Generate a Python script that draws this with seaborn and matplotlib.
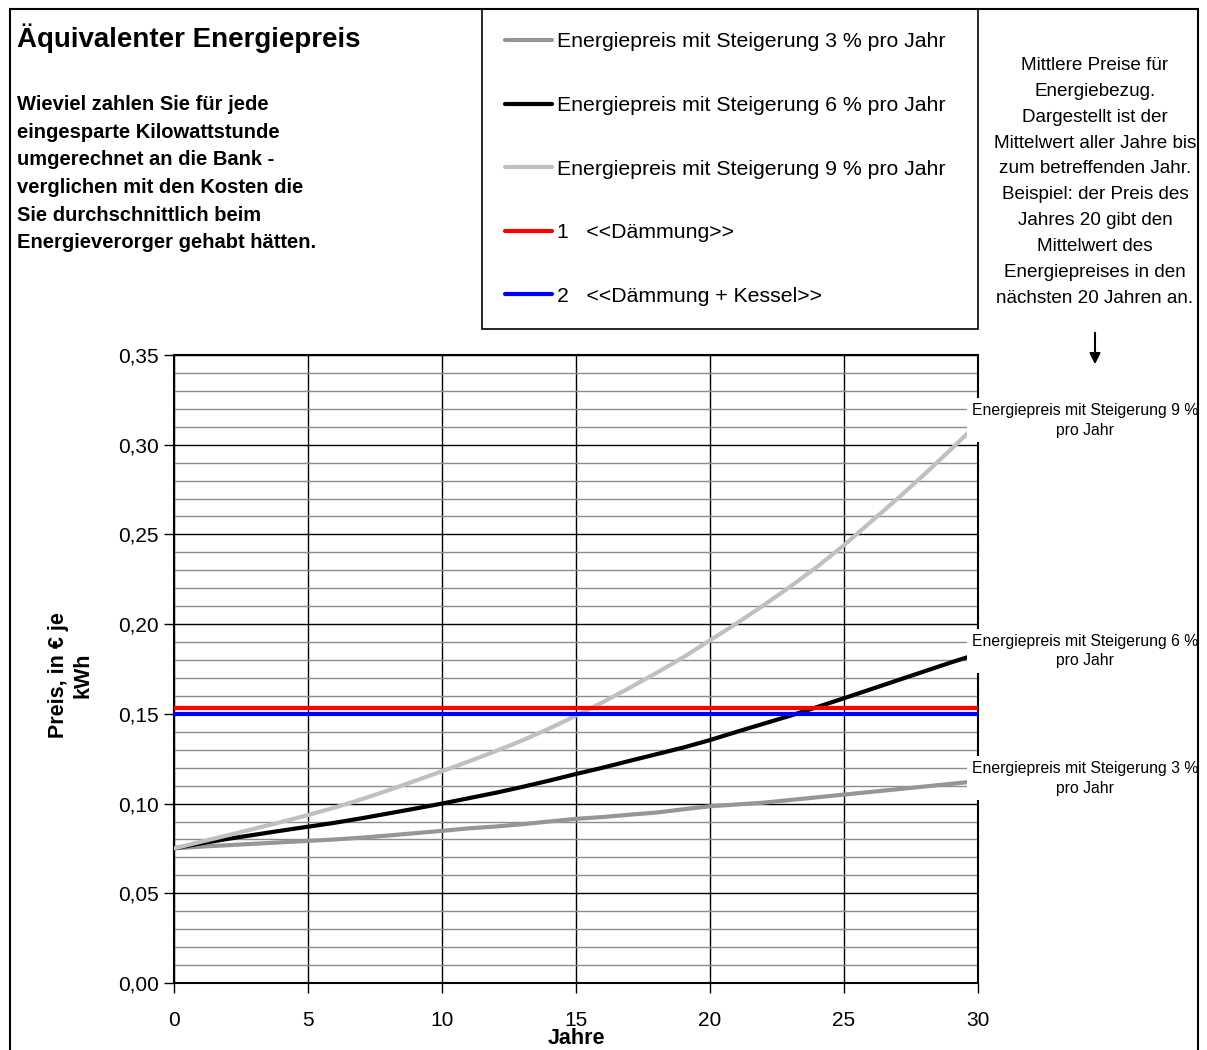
import pandas as pd
import seaborn as sns
import matplotlib.pyplot as plt
from matplotlib.patches import Rectangle
from matplotlib.ticker import MultipleLocator, FuncFormatter

# Jahre und mittlere Energiepreise (in EUR je kWh)
jahre = list(range(31))
preis_3 = [0.0750, 0.0760, 0.0768, 0.0776, 0.0784, 0.0792, 0.0800, 0.0810, 0.0822, 0.0835,
           0.0848, 0.0862, 0.0872, 0.0885, 0.0900, 0.0915, 0.0925, 0.0938, 0.0950, 0.0968,
           0.0985, 0.0995, 0.1005, 0.1020, 0.1035, 0.1050, 0.1065, 0.1080, 0.1095, 0.1110,
           0.1125]
preis_6 = [0.0750, 0.0778, 0.0803, 0.0826, 0.0849, 0.0871, 0.0893, 0.0918, 0.0945, 0.0972,
           0.1000, 0.1030, 0.1060, 0.1093, 0.1128, 0.1165, 0.1200, 0.1238, 0.1275, 0.1312,
           0.1354, 0.1400, 0.1445, 0.1490, 0.1538, 0.1587, 0.1637, 0.1687, 0.1737, 0.1787,
           0.1834]
preis_9 = [0.0750, 0.0787, 0.0823, 0.0860, 0.0897, 0.0936, 0.0978, 0.1024, 0.1074, 0.1127,
           0.1180, 0.1235, 0.1292, 0.1352, 0.1418, 0.1490, 0.1565, 0.1645, 0.1728, 0.1815,
           0.1910, 0.2005, 0.2105, 0.2210, 0.2320, 0.2440, 0.2570, 0.2700, 0.2835, 0.2975,
           0.3120]
preis_daemmung = 0.153
preis_kessel = 0.150

reihen = ["Energiepreis mit Steigerung 3 % pro Jahr",
          "Energiepreis mit Steigerung 6 % pro Jahr",
          "Energiepreis mit Steigerung 9 % pro Jahr"]
farben = ["#969696", "#000000", "#C0C0C0"]
varianten = ["1   <<Dämmung>>", "2   <<Dämmung + Kessel>>"]
y_ticks = [0.00, 0.05, 0.10, 0.15, 0.20, 0.25, 0.30, 0.35]
x_ticks = [0, 5, 10, 15, 20, 25, 30]

titel = "Äquivalenter Energiepreis"
beschreibung = ("Wieviel zahlen Sie für jede\neingesparte Kilowattstunde\n"
                "umgerechnet an die Bank -\nverglichen mit den Kosten die\n"
                "Sie durchschnittlich beim\nEnergieverorger gehabt hätten.")
hinweis = ("Mittlere Preise für\nEnergiebezug.\nDargestellt ist der\n"
           "Mittelwert aller Jahre bis\nzum betreffenden Jahr.\nBeispiel: der Preis des\n"
           "Jahres 20 gibt den\nMittelwert des\nEnergiepreises in den\nnächsten 20 Jahren an.")

sns.set_style("white")
plt.rcParams['font.family'] = ['Liberation Sans', 'DejaVu Sans']
plt.rcParams['text.color'] = 'black'
plt.rcParams['axes.labelcolor'] = 'black'
plt.rcParams['xtick.color'] = 'black'
plt.rcParams['ytick.color'] = 'black'

df = pd.DataFrame({
    "Jahr": jahre * 3,
    "Preis": preis_3 + preis_6 + preis_9,
    "Reihe": [r for r in reihen for _ in jahre],
})

W, H = 1207, 1050
fig = plt.figure(figsize=(W / 100, H / 100), dpi=100)
ax = fig.add_axes([174 / W, 1 - 983 / H, (978 - 174) / W, (983 - 355) / H])

sns.lineplot(data=df, x="Jahr", y="Preis", hue="Reihe", palette=dict(zip(reihen, farben)),
             linewidth=3, legend=False, ax=ax, zorder=3)
ax.axhline(preis_daemmung, color="#FF0000", lw=3, zorder=4)
ax.axhline(preis_kessel, color="#0000FF", lw=3, zorder=4)

ax.set_xlim(0, 30)
ax.set_ylim(0, 0.35)
ax.set_xticks(x_ticks)
ax.set_yticks(y_ticks)
ax.yaxis.set_minor_locator(MultipleLocator(0.01))
ax.yaxis.set_major_formatter(FuncFormatter(lambda v, p: f"{v:.2f}".replace(".", ",")))
ax.set_axisbelow(True)
ax.grid(which="major", axis="both", color="black", lw=1)
ax.grid(which="minor", axis="y", color="#8c8c8c", lw=1)
ax.tick_params(which="major", direction="out", length=7, width=1, color="black",
               labelsize=15, left=True, bottom=True)
ax.tick_params(axis="x", pad=13)
ax.tick_params(axis="y", pad=4)
ax.tick_params(which="minor", length=0)
for s in ax.spines.values():
    s.set_color("black")
    s.set_linewidth(1.5)

ax.set_xlabel("Jahre", fontsize=15.5, fontweight="bold", labelpad=-1)
ax.set_ylabel("Preis, in € je\nkWh", fontsize=15.5, fontweight="bold", linespacing=1.2)
ax.yaxis.set_label_coords(-0.1, 0.49)

# Beschriftung an den Linienenden
for name, werte in zip(reihen, [preis_3, preis_6, preis_9]):
    teile = name.rsplit(" ", 2)
    ax.annotate(teile[0] + "\n" + teile[1] + " " + teile[2], xy=(30, werte[-1]),
                xytext=(107, 3), textcoords="offset pixels", ha="center", va="center",
                fontsize=11.3, linespacing=1.4, annotation_clip=False, zorder=6,
                bbox=dict(boxstyle="square,pad=0.3", fc="white", ec="none"))

handles = ax.get_lines()[:5]
leg = fig.legend(handles, reihen + varianten, loc="upper left",
                 bbox_to_anchor=(482 / W, 1 - 9 / H, (978 - 482) / W, 0), mode="expand",
                 borderaxespad=0, fontsize=15.3, labelspacing=2.1, borderpad=1.1,
                 handlelength=2.2, handletextpad=0.25, fancybox=False, framealpha=1,
                 edgecolor="black")
leg.get_frame().set_linewidth(1.2)

fig.text(17 / W, 1 - 38 / H, titel, fontsize=20, fontweight="bold", va="center")
fig.text(17 / W, 1 - 95 / H, beschreibung, fontsize=14.5, fontweight="bold", va="top",
         linespacing=1.58)
fig.text(1095 / W, 1 - 57 / H, hinweis, fontsize=13.6, ha="center", va="top",
         linespacing=1.68)
ax.annotate("", xy=(1095, H - 367), xytext=(1095, H - 330), xycoords="figure pixels",
            arrowprops=dict(arrowstyle="-|>", color="black", lw=1.5, mutation_scale=16))

fig.add_artist(Rectangle((10 / W, -0.02), (1198 - 10) / W, 1 - 9 / H + 0.02,
                         transform=fig.transFigure, fill=False, ec="black", lw=1.5,
                         zorder=10))

fig.savefig("out.png", dpi=100)
